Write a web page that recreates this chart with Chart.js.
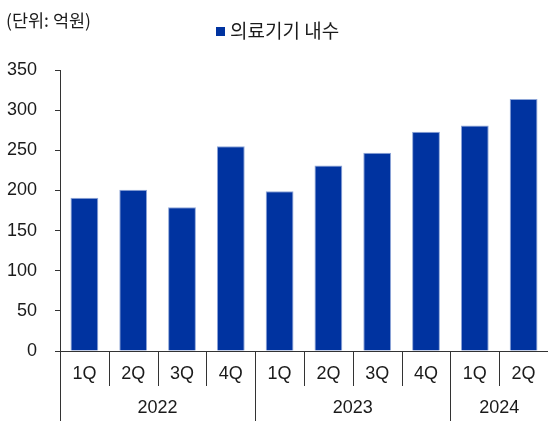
<!DOCTYPE html>
<html>
<head>
<meta charset="utf-8">
<script src="https://cdn.jsdelivr.net/npm/chart.js@4"></script>
<style>
  html, body { margin: 0; padding: 0; background: #fff; }
  #wrap { width: 548px; height: 421px; }
</style>
</head>
<body>
<div id="wrap"><canvas id="salesChart"></canvas></div>
<script>
// 분기별 의료기기 내수 (억원)
const quarters = ['1Q', '2Q', '3Q', '4Q', '1Q', '2Q', '3Q', '4Q', '1Q', '2Q'];
const years = ['2022', '2023', '2024'];
const yearSpans = [4, 4, 2];
const domesticSales = [191, 201, 179, 255, 199, 231, 247, 273, 281, 314];
const seriesName = '의료기기 내수';
const unitLabel = '(단위: 억원)';

const numFont = "'Liberation Sans Narrow', 'Liberation Sans', Arial, sans-serif";
const korFont = "'Noto Sans CJK KR', sans-serif";
const barColor = '#0033a0';
const lineColor = '#333';

// 연도 구분선, 연도 라벨, 단위/범례 그리기
const groupPlugin = {
    id: 'groupPlugin',
    afterDraw(chart) {
        const ctx = chart.ctx;
        const x = chart.scales.x;
        const bottom = chart.chartArea.bottom;
        const step = (x.right - x.left) / quarters.length;
        ctx.save();
        ctx.strokeStyle = lineColor;
        ctx.lineWidth = 1;
        // 분기 구분선
        for (let i = 0; i < quarters.length; i++) {
            const bx = Math.round(x.getPixelForValue(i) - step / 2) + 0.5;
            ctx.beginPath();
            ctx.moveTo(bx, bottom);
            ctx.lineTo(bx, bottom + 35);
            ctx.stroke();
        }
        // 연도 구분선 + 라벨
        let start = 0;
        ctx.fillStyle = '#1a1a1a';
        ctx.font = '18px ' + numFont;
        ctx.textAlign = 'center';
        ctx.textBaseline = 'middle';
        years.forEach((yr, k) => {
            const end = start + yearSpans[k] - 1;
            const lx = Math.round(x.getPixelForValue(start) - step / 2) + 0.5;
            ctx.beginPath();
            ctx.moveTo(lx, bottom);
            ctx.lineTo(lx, chart.height);
            ctx.stroke();
            const cx = (x.getPixelForValue(start) + x.getPixelForValue(end)) / 2;
            ctx.fillText(yr, cx, bottom + 57);
            start = end + 1;
        });
        // 단위
        ctx.textAlign = 'left';
        ctx.font = '17.5px ' + korFont;
        ctx.fillText(unitLabel, 6, 20);
        // 범례
        ctx.fillStyle = barColor;
        ctx.fillRect(216, 27, 9, 9);
        ctx.fillStyle = '#1a1a1a';
        ctx.font = '19px ' + korFont;
        ctx.fillText(seriesName, 230, 31);
        ctx.restore();
    }
};

document.addEventListener('DOMContentLoaded', function() {
    const ctx = document.getElementById('salesChart').getContext('2d');
    new Chart(ctx, {
        type: 'bar',
        data: {
            labels: quarters,
            datasets: [{
                label: seriesName,
                data: domesticSales,
                backgroundColor: barColor,
                borderColor: '#8ea6d8',
                borderWidth: 1,
                barPercentage: 0.57,
                categoryPercentage: 1
            }]
        },
        options: {
            responsive: true,
            maintainAspectRatio: false,
            animation: false,
            layout: { padding: { top: 70, left: 0, right: 0, bottom: 0 } },
            plugins: {
                legend: { display: false },
                tooltip: { enabled: false }
            },
            scales: {
                x: {
                    offset: true,
                    grid: { display: false, drawTicks: false },
                    border: { display: true, color: lineColor },
                    ticks: {
                        color: '#1a1a1a',
                        font: { family: numFont, size: 18 },
                        padding: 12,
                        maxRotation: 0,
                        autoSkip: false
                    },
                    afterFit(scale) { scale.height = 70; }
                },
                y: {
                    min: 0,
                    max: 350,
                    grid: { drawOnChartArea: false, tickLength: 5, color: lineColor },
                    border: { display: true, color: lineColor },
                    ticks: {
                        stepSize: 50,
                        color: '#1a1a1a',
                        font: { family: numFont, size: 18 },
                        padding: 18
                    },
                    afterFit(scale) { scale.width = 60; }
                }
            }
        },
        plugins: [groupPlugin]
    });
});
</script>
</body>
</html>
